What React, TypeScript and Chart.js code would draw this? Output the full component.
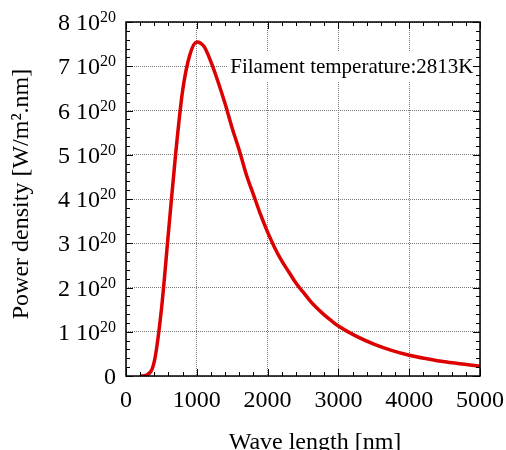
import React, { useEffect, useRef } from "react";
import { Chart, registerables } from "chart.js";

Chart.register(...registerables);

// Wavelength samples (nm)
const wavelengths = [
  200, 300, 400, 500, 600, 700, 800, 900, 1000, 1100, 1200, 1300, 1400, 1500,
  1600, 1700, 1800, 1900, 2000, 2100, 2200, 2300, 2400, 2500, 2600, 2700, 2800,
  2900, 3000, 3250, 3500, 3750, 4000, 4250, 4500, 4750, 5000,
];
// Power density, in units of 10^20 W/m².nm
const powerDensity = [
  0.0, 0.03, 0.33, 1.5, 3.25, 5.0, 6.45, 7.25, 7.55, 7.45, 7.1, 6.65, 6.15, 5.6,
  5.1, 4.55, 4.1, 3.65, 3.25, 2.9, 2.6, 2.35, 2.1, 1.9, 1.7, 1.53, 1.38, 1.25,
  1.13, 0.9, 0.72, 0.58, 0.47, 0.39, 0.32, 0.27, 0.22,
];
const powerScale = 1e20;

const xMin = 0;
const xMax = 5000;
const xMajorStep = 1000;
const xMinorStep = 200;
const yTickValues = [0, 1, 2, 3, 4, 5, 6, 7, 8];
const yMinorStep = 0.2;
const yExponent = "20";

const annotationText = "Filament temperature:2813K";
const annotationX = 1472;
const annotationY = 7;
const xTitle = "Wave length [nm]";
const yTitle = "Power density [W/m².nm]";

const FONT = "'Liberation Serif', 'Times New Roman', serif";

export default function App() {
  const canvasRef = useRef<HTMLCanvasElement | null>(null);

  useEffect(() => {
    const canvas = canvasRef.current;
    if (!canvas) return;

    const decorPlugin = {
      id: "decor",
      afterDatasetsDraw(chart: any) {
        const ctx = chart.ctx as CanvasRenderingContext2D;
        const xs = chart.scales.x;
        const ys = chart.scales.y;
        const area = chart.chartArea;
        ctx.save();

        // annotation with white background
        ctx.font = `21px ${FONT}`;
        const ax = xs.getPixelForValue(annotationX);
        const ay = ys.getPixelForValue(annotationY * powerScale);
        const tw = ctx.measureText(annotationText).width;
        ctx.fillStyle = "#ffffff";
        ctx.fillRect(ax - 3, ay - 15, tw + 4, 30);
        ctx.fillStyle = "#000";
        ctx.textBaseline = "middle";
        ctx.textAlign = "left";
        ctx.fillText(annotationText, ax, ay + 1);

        // frame
        ctx.strokeStyle = "#000";
        ctx.lineWidth = 1.5;
        ctx.strokeRect(area.left, area.top, area.right - area.left, area.bottom - area.top);

        // ticks (inward, all sides)
        ctx.lineWidth = 1;
        ctx.beginPath();
        for (let v = xMin; v <= xMax + 0.001; v += xMinorStep) {
          const major = Math.abs(v / xMajorStep - Math.round(v / xMajorStep)) < 1e-6;
          const len = major ? 7 : 4;
          const px = Math.round(xs.getPixelForValue(v)) + 0.5;
          ctx.moveTo(px, area.bottom);
          ctx.lineTo(px, area.bottom - len);
          ctx.moveTo(px, area.top);
          ctx.lineTo(px, area.top + len);
        }
        const yMax = yTickValues[yTickValues.length - 1];
        for (let i = 0; i <= Math.round(yMax / yMinorStep); i++) {
          const v = i * yMinorStep;
          const major = i % Math.round(1 / yMinorStep) === 0;
          const len = major ? 7 : 4;
          const py = Math.round(ys.getPixelForValue(v * powerScale)) + 0.5;
          ctx.moveTo(area.left, py);
          ctx.lineTo(area.left + len, py);
          ctx.moveTo(area.right, py);
          ctx.lineTo(area.right - len, py);
        }
        ctx.stroke();

        // y tick labels with superscript exponent
        ctx.fillStyle = "#000";
        ctx.textAlign = "right";
        ctx.textBaseline = "alphabetic";
        const rightX = area.left - 10;
        for (const v of yTickValues) {
          const py = ys.getPixelForValue(v * powerScale);
          const base = py + 8;
          if (v === 0) {
            ctx.font = `24px ${FONT}`;
            ctx.fillText("0", rightX, base);
          } else {
            ctx.font = `16px ${FONT}`;
            const ew = ctx.measureText(yExponent).width;
            ctx.fillText(yExponent, rightX, base - 8);
            ctx.font = `24px ${FONT}`;
            ctx.fillText(`${v} 10`, rightX - ew, base);
          }
        }

        // axis titles
        ctx.font = `24px ${FONT}`;
        ctx.textAlign = "center";
        ctx.textBaseline = "alphabetic";
        ctx.fillText(xTitle, 315, 449);
        ctx.save();
        ctx.translate(28, 194);
        ctx.rotate(-Math.PI / 2);
        ctx.fillText(yTitle, 0, 0);
        ctx.restore();

        ctx.restore();
      },
    };

    const chart = new Chart(canvas, {
      type: "line",
      data: {
        datasets: [
          {
            data: wavelengths.map((x, i) => ({ x, y: powerDensity[i] * powerScale })),
            borderColor: "#dd0000",
            borderWidth: 3.5,
            pointRadius: 0,
            fill: false,
            cubicInterpolationMode: "monotone",
          },
        ],
      },
      options: {
        responsive: false,
        animation: false,
        devicePixelRatio: 1,
        layout: { padding: { left: 0, top: 22, right: 26, bottom: 0 } },
        plugins: {
          legend: { display: false },
          tooltip: { enabled: false },
        },
        scales: {
          x: {
            type: "linear",
            min: xMin,
            max: xMax,
            afterFit: (s: any) => {
              s.height = 74;
              s.paddingLeft = 0;
              s.paddingRight = 0;
            },
            ticks: {
              stepSize: xMajorStep,
              color: "#000",
              font: { family: FONT, size: 24 },
              padding: 10,
              maxRotation: 0,
              callback: (v: any) => String(v),
            },
            grid: { color: "#777", lineWidth: 1, drawTicks: false },
            border: { display: false, dash: [1, 1] },
          },
          y: {
            type: "linear",
            min: 0,
            max: yTickValues[yTickValues.length - 1] * powerScale,
            afterFit: (s: any) => {
              s.width = 126;
              s.paddingTop = 0;
              s.paddingBottom = 0;
            },
            ticks: { stepSize: powerScale, display: false },
            grid: { color: "#777", lineWidth: 1, drawTicks: false },
            border: { display: false, dash: [1, 1] },
          },
        },
      },
      plugins: [decorPlugin],
    } as any);

    return () => chart.destroy();
  }, []);

  return (
    <div style={{ position: "fixed", left: 0, top: 0, width: 506, height: 450, background: "#fff" }}>
      <canvas ref={canvasRef} width={506} height={450} style={{ display: "block" }} />
    </div>
  );
}
